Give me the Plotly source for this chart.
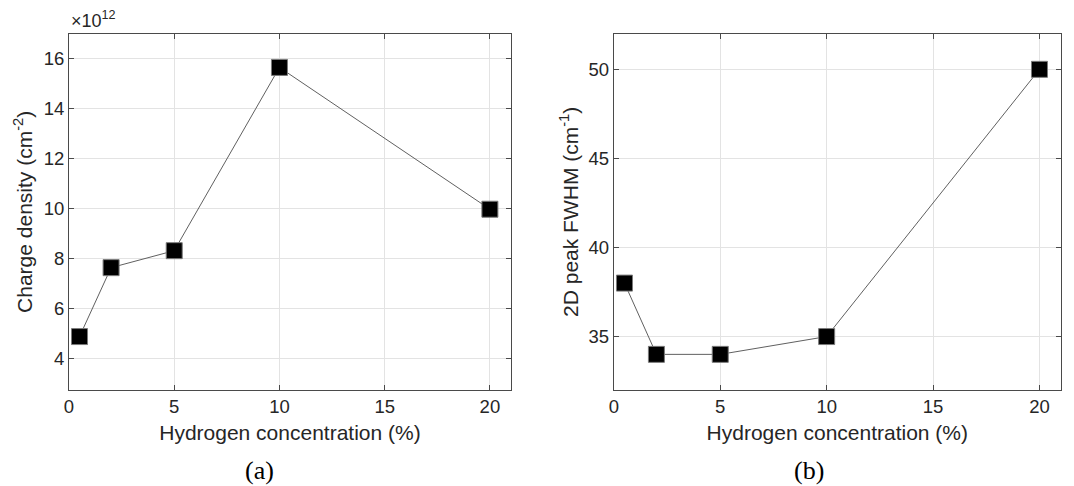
import plotly.graph_objects as go

# Data
h_conc = [0.5, 2, 5, 10, 20]
charge_density = [4.87e12, 7.63e12, 8.31e12, 15.65e12, 9.97e12]
fwhm_2d = [38, 34, 34, 35, 50]

x_ticks = [0, 5, 10, 15, 20]
cd_tick_vals = [4e12, 6e12, 8e12, 10e12, 12e12, 14e12, 16e12]
cd_tick_text = ["4", "6", "8", "10", "12", "14", "16"]
fw_ticks = [35, 40, 45, 50]

W, H = 1074, 486
FONT = "Liberation Sans, Arial, sans-serif"
TXT = "#262626"
AX = "#4a4a4a"
GRID = "#e3e3e3"

fig = go.Figure()

marker = dict(symbol="square", size=16, color="black", line=dict(color="#7a7a7a", width=1))
lineS = dict(color="#606060", width=1)

fig.add_trace(go.Scatter(x=h_conc, y=charge_density, mode="lines+markers",
                         marker=marker, line=lineS, xaxis="x", yaxis="y", showlegend=False))
fig.add_trace(go.Scatter(x=h_conc, y=fwhm_2d, mode="lines+markers",
                         marker=marker, line=lineS, xaxis="x2", yaxis="y2", showlegend=False))

def px_dom(a, b, total):
    return [a / total, b / total]

ydom = [1 - 390 / H, 1 - 33.7 / H]

common_axis = dict(showline=True, linecolor=AX, linewidth=1, mirror="ticks",
                   ticks="inside", ticklen=5, tickcolor=AX, showgrid=True,
                   gridcolor=GRID, gridwidth=1, zeroline=False,
                   tickfont=dict(family=FONT, size=18.5, color=TXT))
title_font = dict(family=FONT, size=21, color=TXT)

fig.update_layout(
    width=W, height=H,
    margin=dict(l=0, r=0, t=0, b=0),
    paper_bgcolor="white", plot_bgcolor="white",
    xaxis=dict(domain=px_dom(64.3, 508.3, W), range=[0, 21], tickvals=x_ticks,
               anchor="y",
               title=dict(text="Hydrogen concentration (%)", standoff=9, font=title_font),
               **common_axis),
    yaxis=dict(domain=ydom, range=[2.73e12, 17e12], tickvals=cd_tick_vals,
               ticktext=cd_tick_text, anchor="x",
               title=dict(text="Charge density (cm<sup>-2</sup>)", standoff=5, font=title_font),
               **common_axis),
    xaxis2=dict(domain=px_dom(611.7, 1060.7, W), range=[0, 21], tickvals=x_ticks,
                anchor="y2",
                title=dict(text="Hydrogen concentration (%)", standoff=9, font=title_font),
                **common_axis),
    yaxis2=dict(domain=ydom, range=[32, 52], tickvals=fw_ticks, anchor="x2",
                title=dict(text="2D peak FWHM (cm<sup>-1</sup>)", standoff=4, font=title_font),
                **common_axis),
)

fig.add_annotation(x=64 / W, y=1 - 33 / H, xref="paper", yref="paper",
                   xanchor="left", yanchor="bottom", showarrow=False,
                   text="×10<sup>12</sup>", font=dict(family=FONT, size=18, color=TXT))
fig.add_annotation(x=256 / W, y=1 - 470 / H, xref="paper", yref="paper",
                   xanchor="center", yanchor="middle", showarrow=False,
                   text="(a)", font=dict(family="Liberation Serif, serif", size=26, color="black"))
fig.add_annotation(x=808 / W, y=1 - 470 / H, xref="paper", yref="paper",
                   xanchor="center", yanchor="middle", showarrow=False,
                   text="(b)", font=dict(family="Liberation Serif, serif", size=26, color="black"))

fig.write_html("out.html")
